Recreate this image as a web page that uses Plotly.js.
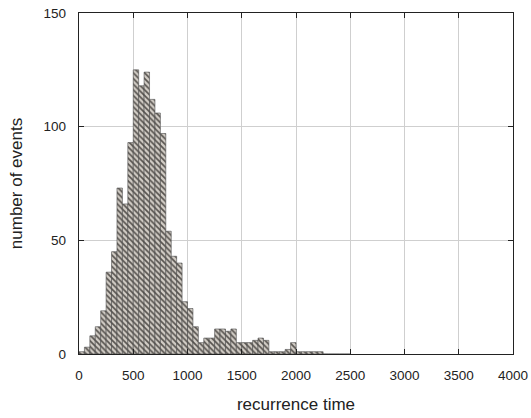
<!DOCTYPE html>
<html>
<head>
<meta charset="utf-8">
<script src="https://cdn.plot.ly/plotly-3.0.1.min.js"></script>
<style>html,body{margin:0;padding:0;background:#fff;}#chart{width:531px;height:418px;}</style>
</head>
<body>
<div id="chart"></div>
<script>
// bin centres (width 50) of recurrence time
var binCenters = [25, 75, 125, 175, 225, 275, 325, 375, 425, 475,
                  525, 575, 625, 675, 725, 775, 825, 875, 925, 975,
                  1025, 1075, 1125, 1175, 1225, 1275, 1325, 1375, 1425, 1475,
                  1525, 1575, 1625, 1675, 1725, 1775, 1825, 1875, 1925, 1975,
                  2025, 2075, 2125, 2175, 2225, 2275, 2325, 2375, 2425, 2475];
// number of events per bin
var eventCounts = [1, 3, 8, 12, 19, 36, 45, 73, 66, 93,
                   125, 118, 124, 112, 106, 97, 54, 43, 40, 23,
                   20, 12, 5, 7, 7, 11, 11, 10, 11, 5,
                   5, 5, 6, 7, 6, 1, 1, 1, 2, 5,
                   1, 1, 1, 1, 1, 0, 0, 0, 0, 0];
var xTicks = [0, 500, 1000, 1500, 2000, 2500, 3000, 3500, 4000];
var yTicks = [0, 50, 100, 150];

var trace = {
  type: 'bar',
  x: binCenters,
  y: eventCounts,
  width: 50,
  marker: {
    color: '#d2cdc6',
    line: {color: '#4a4a4a', width: 0.6},
    pattern: {shape: '\\', fgcolor: '#57534f', bgcolor: '#d2cdc6', size: 4, solidity: 0.42}
  },
  hoverinfo: 'x+y'
};

var fontFam = '"Liberation Sans", Arial, Helvetica, sans-serif';
var layout = {
  width: 531, height: 418,
  margin: {l: 79, r: 18, t: 13, b: 64},
  paper_bgcolor: '#fff', plot_bgcolor: '#fff',
  showlegend: false,
  bargap: 0,
  font: {family: fontFam, color: '#222', size: 13.5},
  xaxis: {
    range: [0, 4000],
    tickvals: xTicks,
    ticktext: xTicks.map(String),
    ticks: 'inside', ticklen: 5, tickcolor: '#222',
    showline: true, linecolor: '#222', linewidth: 1.2, mirror: 'ticks',
    showgrid: true, gridcolor: '#cfcfcf', gridwidth: 1,
    zeroline: false,
    ticklabelstandoff: 9,
    tickfont: {size: 13.5, color: '#222'},
    title: {text: 'recurrence time', font: {size: 17, color: '#222'}, standoff: 15}
  },
  yaxis: {
    range: [0, 150],
    tickvals: yTicks,
    ticktext: yTicks.map(String),
    ticks: 'inside', ticklen: 5, tickcolor: '#222',
    showline: true, linecolor: '#222', linewidth: 1.2, mirror: 'ticks',
    showgrid: true, gridcolor: '#cfcfcf', gridwidth: 1,
    zeroline: false,
    ticklabelstandoff: 9,
    tickfont: {size: 13.5, color: '#222'},
    title: {text: 'number of events', font: {size: 17, color: '#222'}, standoff: 16}
  }
};

Plotly.newPlot('chart', [trace], layout, {displayModeBar: false, staticPlot: true});
</script>
</body>
</html>
